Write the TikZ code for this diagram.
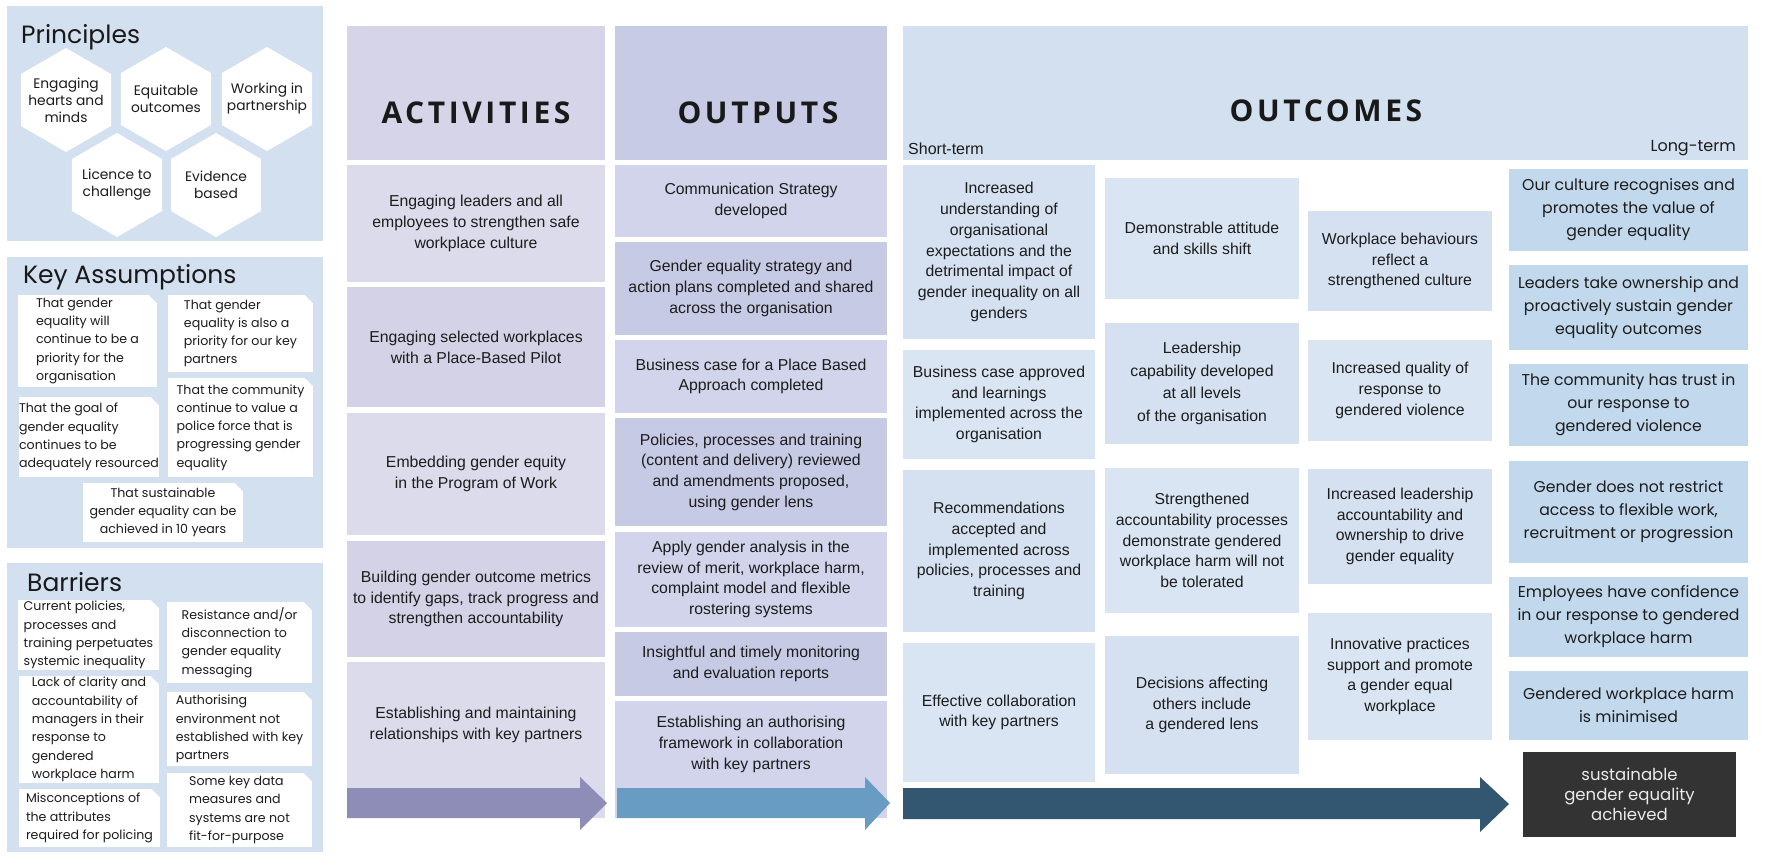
\documentclass[tikz,border=0pt]{standalone}
\usepackage{fontspec}
\setmainfont{Liberation Sans}
\newfontfamily\headfont{Open Sans}[LetterSpace=12]
\newfontfamily\geofont{Poppins}

\definecolor{panelblue}{HTML}{D3E0F0}
\definecolor{acthead}{HTML}{D6D4E8}
\definecolor{actA}{HTML}{DCDBEC}
\definecolor{actB}{HTML}{D4D2E6}
\definecolor{outhead}{HTML}{C7CBE5}
\definecolor{outA}{HTML}{D1D4EB}
\definecolor{outB}{HTML}{C6CAE4}
\definecolor{ocA}{HTML}{D5E1F1}
\definecolor{ocB}{HTML}{DAE5F3}
\definecolor{longblue}{HTML}{C2D8EC}
\definecolor{goaldark}{HTML}{333333}
\definecolor{actarrow}{HTML}{8E8DB8}
\definecolor{outarrow}{HTML}{699CC2}
\definecolor{ocarrow}{HTML}{335671}
\definecolor{inktext}{HTML}{1C1C1C}

\tikzset{
  box/.style={inner sep=0pt, align=center, text=inktext, font=\fontsize{15.8}{20.7}\selectfont},
  longbox/.style={box, fill=longblue, minimum width=239pt, font=\geofont\fontsize{15.7}{23}\selectfont},
  card/.style={fill=white, inner sep=0pt, align=left, text=inktext, font=\geofont\fontsize{12.6}{18.3}\selectfont,
    path picture={\fill[panelblue] (path picture bounding box.north east) -- ++(-8pt,0pt) -- ++(8pt,-8pt) -- cycle;}},
  hexlabel/.style={align=center, inner sep=0pt, text=inktext, font=\geofont\fontsize{13.8}{17}\selectfont},
  paneltitle/.style={anchor=base west, inner sep=0pt, text=black!90, font=\geofont\fontsize{25}{30}\selectfont},
  headlabel/.style={inner sep=0pt, text=black!90, font=\headfont\bfseries\fontsize{30}{36}\selectfont}
}

\begin{document}
\begin{tikzpicture}[x=1pt, y=-1pt]
    % Page and its size
    \fill[white] (0,0) rectangle (1765,855);
    \useasboundingbox (0,0) rectangle (1765,855);

    % Principles panel with the hexagons
    \fill[panelblue] (7,6) rectangle (323,241);
    \node[paneltitle] (principlesTitle) at (21,43) {Principles};
    \fill[white] (66,100) +(30:52) -- +(90:52) -- +(150:52) -- +(210:52) -- +(270:52) -- +(330:52) -- cycle;
    \node[hexlabel] (hexHearts) at (66,100) {Engaging\\hearts and\\minds};
    \fill[white] (166,99) +(30:52) -- +(90:52) -- +(150:52) -- +(210:52) -- +(270:52) -- +(330:52) -- cycle;
    \node[hexlabel] (hexEquitable) at (166,99) {Equitable\\outcomes};
    \fill[white] (267,99) +(30:52) -- +(90:52) -- +(150:52) -- +(210:52) -- +(270:52) -- +(330:52) -- cycle;
    \node[hexlabel] (hexPartner) at (267,99) {Working in\\partnership};
    \fill[white] (117,185) +(30:52) -- +(90:52) -- +(150:52) -- +(210:52) -- +(270:52) -- +(330:52) -- cycle;
    \node[hexlabel] (hexLicence) at (117,185) {Licence to\\challenge};
    \fill[white] (216,185) +(30:52) -- +(90:52) -- +(150:52) -- +(210:52) -- +(270:52) -- +(330:52) -- cycle;
    \node[hexlabel] (hexEvidence) at (216,185) {Evidence\\based};

    % Key assumptions panel
    \fill[panelblue] (7,257) rectangle (323,548);
    \node[paneltitle] (assumeTitle) at (23,283) {Key Assumptions};
    \node[card, minimum width=139pt, minimum height=92pt] (ka1) at (87.5,341) {That gender\\equality will\\continue to be a\\priority for the\\organisation};
    \node[card, minimum width=145pt, minimum height=77pt] (ka2) at (240.5,333.5) {That gender\\equality is also a\\priority for our key\\partners};
    \node[card, minimum width=140pt, minimum height=80pt] (ka3) at (89,437) {That the goal of\\gender equality\\continues to be\\adequately resourced};
    \node[card, minimum width=145pt, minimum height=99pt] (ka4) at (240.5,427.5) {That the community\\continue to value a\\police force that is\\progressing gender\\equality};
    \node[card, align=center, minimum width=160pt, minimum height=59pt] (ka5) at (163,512.5) {That sustainable\\gender equality can be\\achieved in 10 years};

    % Barriers panel
    \fill[panelblue] (7,563) rectangle (323,852);
    \node[paneltitle] (barrierTitle) at (27,591) {Barriers};
    \node[card, minimum width=141pt, minimum height=70pt] (ba1) at (88.5,635) {Current policies,\\processes and\\training perpetuates\\systemic inequality};
    \node[card, minimum width=145pt, minimum height=81pt] (ba2) at (239.5,642.5) {Resistance and/or\\disconnection to\\gender equality\\messaging};
    \node[card, minimum width=140pt, minimum height=107pt] (ba3) at (89,729.5) {Lack of clarity and\\accountability of\\managers in their\\response to\\gendered\\workplace harm};
    \node[card, minimum width=145pt, minimum height=74pt] (ba4) at (239.5,729) {Authorising\\environment not\\established with key\\partners};
    \node[card, minimum width=141pt, minimum height=58pt] (ba5) at (89.5,818) {Misconceptions of\\the attributes\\required for policing};
    \node[card, minimum width=145pt, minimum height=74pt] (ba6) at (239.5,810) {Some key data\\measures and\\systems are not\\fit-for-purpose};

    % Activities column
    \fill[acthead] (347,26) rectangle (605,160);
    \node[headlabel] (actHead) at (476,113) {ACTIVITIES};
    \node[box, fill=actA, minimum width=258pt, minimum height=117pt] (act1) at (476,223.5) {Engaging leaders and all\\employees to strengthen safe\\workplace culture};
    \node[box, fill=actB, minimum width=258pt, minimum height=120pt] (act2) at (476,347) {Engaging selected workplaces\\with a Place-Based Pilot};
    \node[box, fill=actA, minimum width=258pt, minimum height=122pt] (act3) at (476,474) {Embedding gender equity\\in the Program of Work};
    \node[box, fill=actB, minimum width=258pt, minimum height=116pt] (act4) at (476,599) {Building gender outcome metrics\\to identify gaps, track progress and\\strengthen accountability};
    \node[box, fill=actA, minimum width=258pt, minimum height=126pt] (act5) at (476,725) {Establishing and maintaining\\relationships with key partners};
    \fill[actA] (act5.south west) rectangle (605,818);
    \fill[actarrow] (347,788) -- (580,788) -- (580,777) -- (607,803) -- (580,830) -- (580,818) -- (347,818) -- cycle;

    % Outputs column
    \fill[outhead] (615,26) rectangle (887,160);
    \node[headlabel] (outHead) at (758,113) {OUTPUTS};
    \node[box, fill=outA, minimum width=272pt, minimum height=72pt] (out1) at (751,201) {Communication Strategy\\developed};
    \node[box, fill=outB, minimum width=272pt, minimum height=93pt] (out2) at (751,288.5) {Gender equality strategy and\\action plans completed and shared\\across the organisation};
    \node[box, fill=outA, minimum width=272pt, minimum height=73pt] (out3) at (751,376.5) {Business case for a Place Based\\Approach completed};
    \node[box, fill=outB, minimum width=272pt, minimum height=108pt] (out4) at (751,472) {Policies, processes and training\\(content and delivery) reviewed\\and amendments proposed,\\using gender lens};
    \node[box, fill=outA, minimum width=272pt, minimum height=95pt] (out5) at (751,579.5) {Apply gender analysis in the\\review of merit, workplace harm,\\complaint model and flexible\\rostering systems};
    \node[box, fill=outB, minimum width=272pt, minimum height=64pt] (out6) at (751,664) {Insightful and timely monitoring\\and evaluation reports};
    \node[box, fill=outA, minimum width=272pt, minimum height=87pt] (out7) at (751,744.5) {Establishing an authorising\\framework in collaboration\\with key partners};
    \fill[outA] (out7.south west) rectangle (887,818);
    \fill[outarrow] (617,788) -- (865,788) -- (865,777) -- (890,803) -- (865,830) -- (865,818) -- (617,818) -- cycle;

    % Outcomes header
    \fill[panelblue] (903,26) rectangle (1748,160);
    \node[headlabel] (ocHead) at (1326,111) {OUTCOMES};
    \node[anchor=west, inner sep=0pt, text=inktext, font=\fontsize{16}{19}\selectfont] (shortTerm) at (908,149) {Short-term};
    \node[anchor=east, inner sep=0pt, text=inktext, font=\geofont\fontsize{16}{19}\selectfont] (longTerm) at (1736,148) {Long-term};

    % Short-term outcomes
    \node[box, fill=ocA, minimum width=192pt, minimum height=174pt] (short1) at (999,252) {Increased\\understanding of\\organisational\\expectations and the\\detrimental impact of\\gender inequality on all\\genders};
    \node[box, fill=ocB, minimum width=192pt, minimum height=109pt] (short2) at (999,404.5) {Business case approved\\and learnings\\implemented across the\\organisation};
    \node[box, fill=ocA, minimum width=192pt, minimum height=162pt] (short3) at (999,551) {Recommendations\\accepted and\\implemented across\\policies, processes and\\training};
    \node[box, fill=ocB, minimum width=192pt, minimum height=139pt] (short4) at (999,712.5) {Effective collaboration\\with key partners};

    % Medium outcomes
    \node[box, fill=ocB, minimum width=194pt, minimum height=121pt] (mid1) at (1202,238.5) {Demonstrable attitude\\and skills shift};
    \node[box, fill=ocA, minimum width=194pt, minimum height=121pt, font=\fontsize{15.8}{22.5}\selectfont] (mid2) at (1202,383.5) {Leadership\\capability developed\\at all levels\\of the organisation};
    \node[box, fill=ocB, minimum width=194pt, minimum height=145pt] (mid3) at (1202,540.5) {Strengthened\\accountability processes\\demonstrate gendered\\workplace harm will not\\be tolerated};
    \node[box, fill=ocA, minimum width=194pt, minimum height=138pt] (mid4) at (1202,705) {Decisions affecting\\others include\\a gendered lens};

    % Later outcomes
    \node[box, fill=ocA, minimum width=184pt, minimum height=100pt] (late1) at (1400,261) {Workplace behaviours\\reflect a\\strengthened culture};
    \node[box, fill=ocB, minimum width=184pt, minimum height=101pt] (late2) at (1400,390.5) {Increased quality of\\response to\\gendered violence};
    \node[box, fill=ocA, minimum width=184pt, minimum height=115pt] (late3) at (1400,526.5) {Increased leadership\\accountability and\\ownership to drive\\gender equality};
    \node[box, fill=ocB, minimum width=184pt, minimum height=127pt] (late4) at (1400,676.5) {Innovative practices\\support and promote\\a gender equal\\workplace};

    % Long-term outcomes
    \node[longbox, minimum height=82pt] (long1) at (1628.5,210) {Our culture recognises and\\promotes the value of\\gender equality};
    \node[longbox, minimum height=85pt] (long2) at (1628.5,307.5) {Leaders take ownership and\\proactively sustain gender\\equality outcomes};
    \node[longbox, minimum height=82pt] (long3) at (1628.5,405) {The community has trust in\\our response to\\gendered violence};
    \node[longbox, minimum height=102pt] (long4) at (1628.5,512) {Gender does not restrict\\access to flexible work,\\recruitment or progression};
    \node[longbox, minimum height=80pt] (long5) at (1628.5,617) {Employees have confidence\\in our response to gendered\\workplace harm};
    \node[longbox, minimum height=69pt] (long6) at (1628.5,705.5) {Gendered workplace harm\\is minimised};

    % Goal and the outcomes arrow
    \fill[ocarrow] (903,788) -- (1480,788) -- (1480,777) -- (1509,804) -- (1480,832) -- (1480,819) -- (903,819) -- cycle;
    \node[box, fill=goaldark, text=white!92!black, minimum width=213pt, minimum height=85pt, font=\geofont\fontsize{16.5}{20}\selectfont] (goal) at (1629.5,794.5) {sustainable\\gender equality\\achieved};
\end{tikzpicture}
\end{document}
